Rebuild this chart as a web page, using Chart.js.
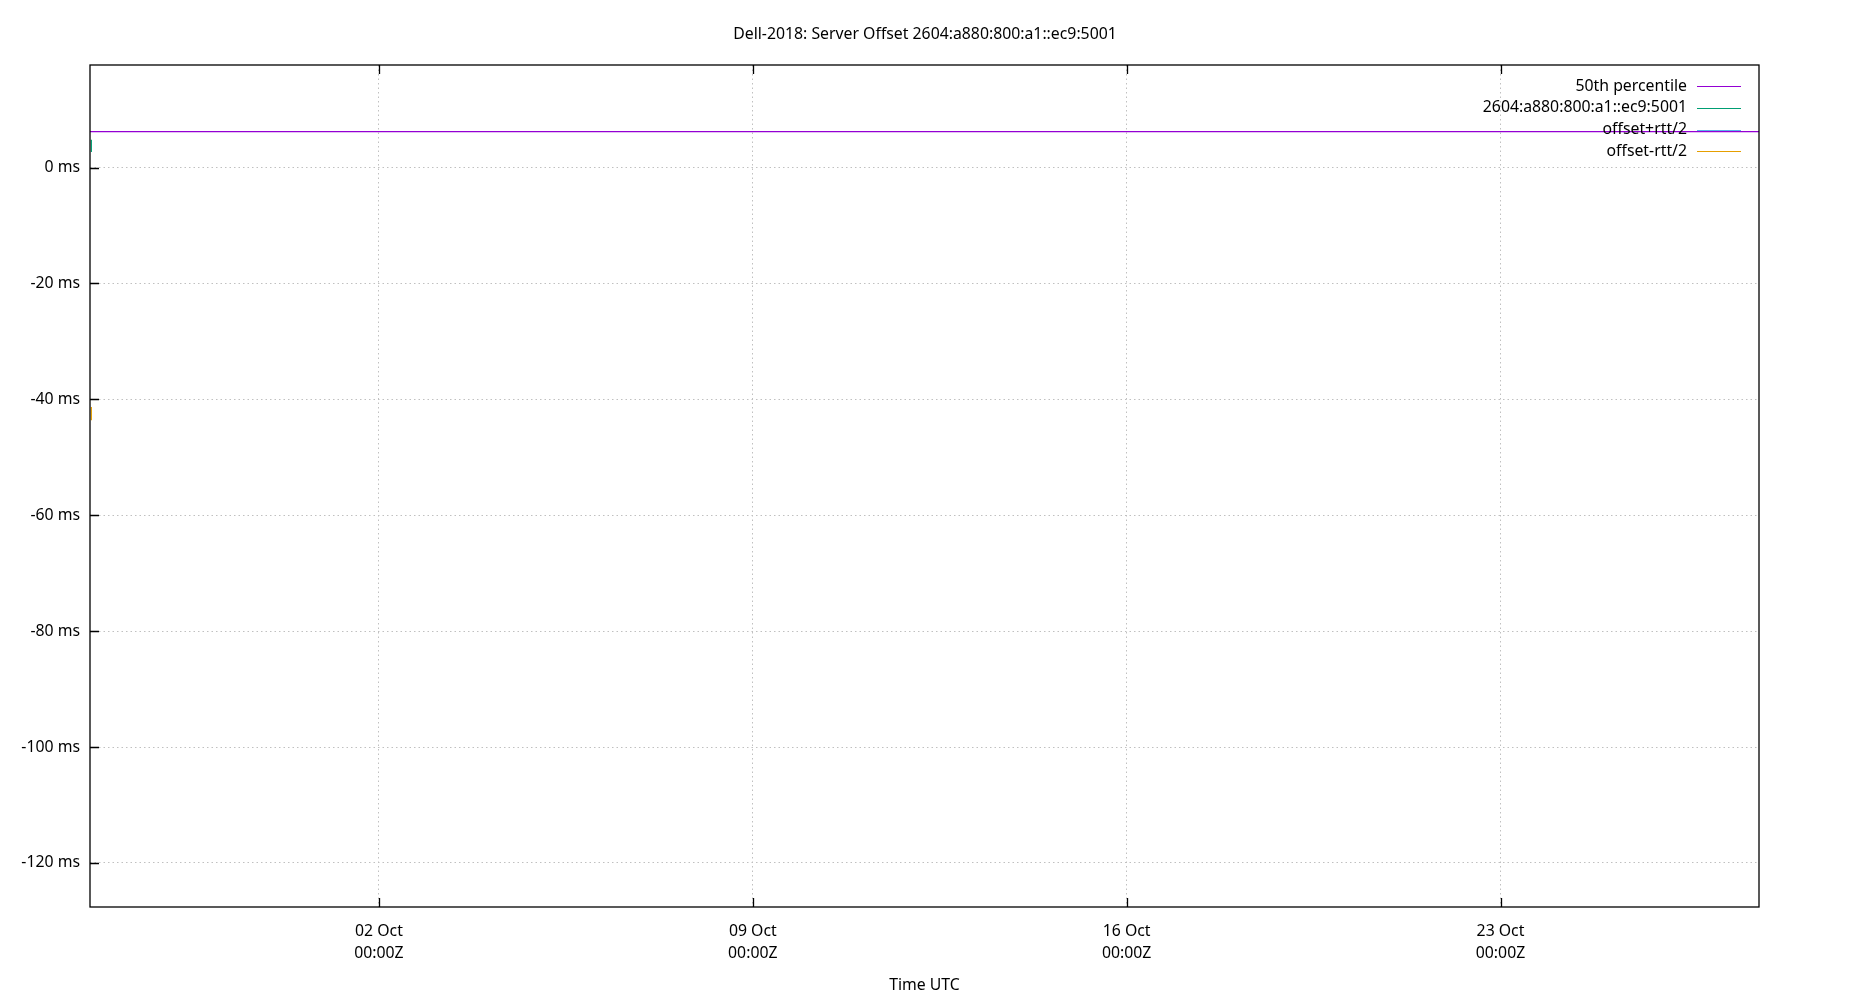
<!DOCTYPE html>
<html>
<head>
<meta charset="utf-8">
<title>Dell-2018: Server Offset</title>
<script src="https://cdn.jsdelivr.net/npm/chart.js@4/dist/chart.umd.min.js"></script>
<style>
  html, body { margin: 0; padding: 0; background: #fff; }
  #wrap { width: 1850px; height: 1000px; }
</style>
</head>
<body>
<div id="wrap"><canvas id="graph-offset" width="1850" height="1000"></canvas></div>
<script>
// x values are days relative to 02 Oct 00:00Z
var chartTitle = "Dell-2018: Server Offset 2604:a880:800:a1::ec9:5001";
var xTitle = "Time UTC";
var xRange = [-5.41, 25.84];
var xTicks = [0, 7, 14, 21];
var xTickLabels = [["02 Oct", "00:00Z"], ["09 Oct", "00:00Z"], ["16 Oct", "00:00Z"], ["23 Oct", "00:00Z"]];
var yRange = [-127.6, 17.7];
var yTicks = [0, -20, -40, -60, -80, -100, -120];

var seriesNames = ["50th percentile", "2604:a880:800:a1::ec9:5001", "offset+rtt/2", "offset-rtt/2"];
var seriesColors = ["#9400d3", "#009e73", "#56b4e9", "#e69f00"];

// only a handful of samples at the very start of the window
var p50_x = [-5.41, 25.84];
var p50_y = [6.2, 6.2];
var offset_x = [-5.385, -5.384, -5.383];
var offset_y = [4.8, 3.7, 2.7];
var plus_x = [-5.385, -5.384, -5.383];
var plus_y = [49.5, 48.6, 47.9];
var minus_x = [-5.385, -5.384, -5.383];
var minus_y = [-41.3, -42.5, -43.6];

function pts(xs, ys) {
    return xs.map(function (x, i) { return { x: x, y: ys[i] }; });
}

var FONT = "'Noto Sans', 'DejaVu Sans', sans-serif";
var FONT_SIZE = 15.8;

// gnuplot-ish frame: box, inward ticks, title, right aligned key
var gnuplotFrame = {
    id: 'gnuplotFrame',
    beforeDraw: function (chart) {
        var ctx = chart.ctx;
        ctx.save();
        ctx.fillStyle = '#fff';
        ctx.fillRect(0, 0, chart.width, chart.height);
        ctx.restore();
    },
    afterDatasetsDraw: function (chart) {
        var ctx = chart.ctx, a = chart.chartArea;
        var xs = chart.scales.x, ys = chart.scales.y;
        ctx.save();
        ctx.strokeStyle = '#000';
        ctx.lineWidth = 1.3;
        ctx.strokeRect(a.left, a.top, a.right - a.left, a.bottom - a.top);
        ctx.beginPath();
        xTicks.forEach(function (v) {
            var px = Math.round(xs.getPixelForValue(v)) + 0.5;
            ctx.moveTo(px, a.bottom); ctx.lineTo(px, a.bottom - 9);
            ctx.moveTo(px, a.top); ctx.lineTo(px, a.top + 9);
        });
        yTicks.forEach(function (v) {
            var py = Math.round(ys.getPixelForValue(v)) + 0.5;
            ctx.moveTo(a.left, py); ctx.lineTo(a.left + 9, py);
        });
        ctx.stroke();

        // key
        ctx.font = FONT_SIZE + 'px ' + FONT;
        ctx.textAlign = 'right';
        ctx.textBaseline = 'middle';
        chart.data.datasets.forEach(function (ds, i) {
            var y = a.top + 21 + i * 21.8;
            ctx.fillStyle = '#000';
            ctx.fillText(ds.label, a.right - 72, y);
            ctx.strokeStyle = ds.borderColor;
            ctx.lineWidth = 1.1;
            ctx.beginPath();
            ctx.moveTo(a.right - 62, Math.round(y) + 0.5);
            ctx.lineTo(a.right - 18, Math.round(y) + 0.5);
            ctx.stroke();
        });

        ctx.textAlign = 'center';
        ctx.fillStyle = '#000';
        ctx.fillText(chartTitle, chart.width / 2, 34);
        ctx.fillText(xTitle, (a.left + a.right) / 2, 985);
        ctx.restore();
    }
};

var line_chart_offset = new Chart(document.getElementById('graph-offset'), {
    type: 'line',
    data: {
        datasets: [
            { label: seriesNames[0], data: pts(p50_x, p50_y), borderColor: seriesColors[0] },
            { label: seriesNames[1], data: pts(offset_x, offset_y), borderColor: seriesColors[1] },
            { label: seriesNames[2], data: pts(plus_x, plus_y), borderColor: seriesColors[2] },
            { label: seriesNames[3], data: pts(minus_x, minus_y), borderColor: seriesColors[3] }
        ].map(function (d) {
            d.borderWidth = 1.1; d.pointRadius = 0; d.fill = false; d.tension = 0;
            return d;
        })
    },
    options: {
        responsive: false,
        animation: false,
        layout: { padding: { top: 65, right: 91, left: 0, bottom: 0 } },
        plugins: { legend: { display: false }, title: { display: false }, tooltip: { enabled: false } },
        scales: {
            x: {
                type: 'linear',
                min: xRange[0], max: xRange[1],
                afterBuildTicks: function (s) { s.ticks = xTicks.map(function (v) { return { value: v }; }); },
                afterFit: function (s) { s.height = 93; },
                ticks: {
                    autoSkip: false, maxRotation: 0, padding: 13, color: '#000',
                    font: { family: FONT, size: FONT_SIZE, lineHeight: 1.4 },
                    callback: function (v) { return xTickLabels[xTicks.indexOf(v)]; }
                },
                grid: { color: '#c0c0c0', lineWidth: 1, drawTicks: false },
                border: { display: false, dash: [1.5, 3] }
            },
            y: {
                type: 'linear',
                min: yRange[0], max: yRange[1],
                afterBuildTicks: function (s) { s.ticks = yTicks.map(function (v) { return { value: v }; }); },
                afterFit: function (s) { s.width = 90; },
                ticks: {
                    padding: 10, color: '#000',
                    font: { family: FONT, size: FONT_SIZE },
                    callback: function (v) { return v + ' ms'; }
                },
                grid: { color: '#c0c0c0', lineWidth: 1, drawTicks: false },
                border: { display: false, dash: [1.5, 3] }
            }
        }
    },
    plugins: [gnuplotFrame]
});
</script>
</body>
</html>
